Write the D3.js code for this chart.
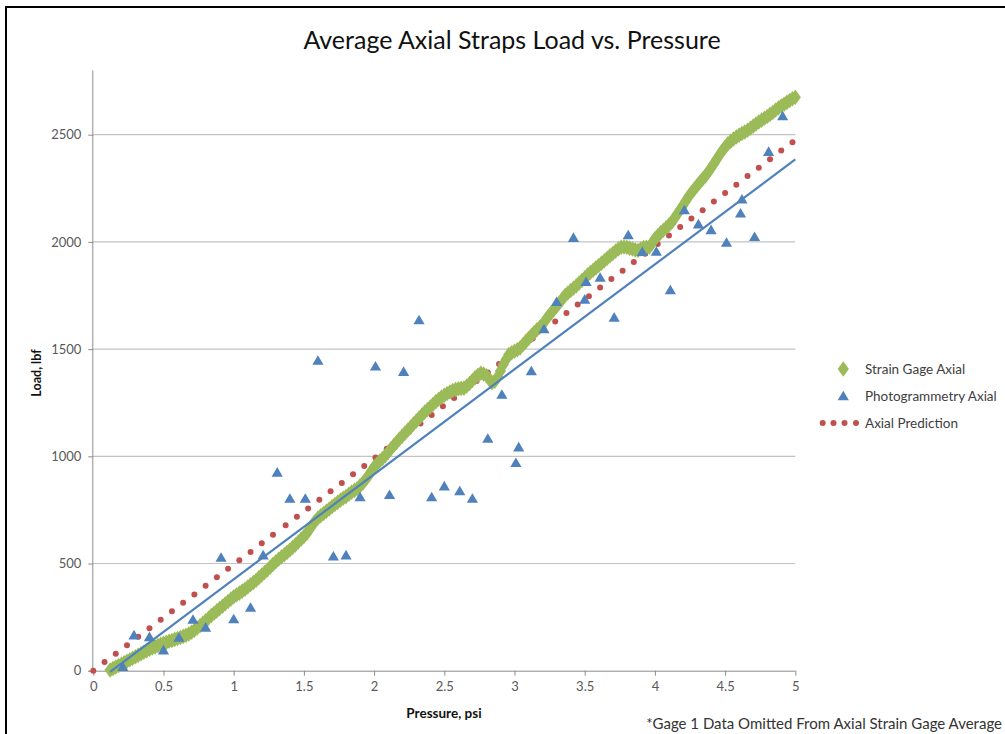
<!DOCTYPE html>
<html><head><meta charset="utf-8">
<script src="https://cdn.jsdelivr.net/npm/d3@7"></script>
<style>body{margin:0;background:#fff}svg{display:block}text{font-family:Lato,"Open Sans",sans-serif}</style>
</head><body>
<svg id="c" width="1005" height="734"></svg>
<script>
const xTicks = [0,0.5,1,1.5,2,2.5,3,3.5,4,4.5,5];
const xTickLabels = ["0","0.5","1","1.5","2","2.5","3","3.5","4","4.5","5"];
const yTicks = [0,500,1000,1500,2000,2500];

// Strain Gage Axial: [pressure psi, load lbf]
const gagePoints = [[0.12,3],[0.14,10],[0.16,17],[0.18,24],[0.20,30],[0.22,37],[0.24,44],[0.26,51],[0.28,58],[0.30,65],[0.32,72],[0.34,79],[0.36,86],[0.38,93],[0.40,100],[0.42,106],[0.44,111],[0.46,117],[0.48,123],[0.50,128],[0.52,132],[0.54,137],[0.56,141],[0.58,146],[0.60,150],[0.62,155],[0.64,160],[0.66,165],[0.68,171],[0.70,179],[0.72,189],[0.74,199],[0.76,210],[0.78,221],[0.80,233],[0.82,245],[0.84,257],[0.86,268],[0.88,279],[0.90,290],[0.92,301],[0.94,312],[0.96,323],[0.98,334],[1.00,345],[1.02,353],[1.04,362],[1.06,371],[1.08,380],[1.10,390],[1.12,401],[1.14,411],[1.16,422],[1.18,434],[1.20,446],[1.22,458],[1.24,470],[1.26,483],[1.28,496],[1.30,508],[1.32,520],[1.34,530],[1.36,541],[1.38,552],[1.40,563],[1.42,575],[1.44,587],[1.46,600],[1.48,613],[1.50,626],[1.52,640],[1.54,660],[1.56,680],[1.58,697],[1.60,712],[1.62,723],[1.64,733],[1.66,744],[1.68,754],[1.70,765],[1.72,775],[1.74,785],[1.76,795],[1.78,804],[1.80,812],[1.82,823],[1.84,833],[1.86,841],[1.88,850],[1.90,862],[1.92,875],[1.94,892],[1.96,910],[1.98,930],[2.00,950],[2.02,964],[2.04,978],[2.06,990],[2.08,1003],[2.10,1019],[2.12,1035],[2.14,1050],[2.16,1065],[2.18,1080],[2.20,1094],[2.22,1108],[2.24,1122],[2.26,1136],[2.28,1150],[2.30,1164],[2.32,1178],[2.34,1192],[2.36,1206],[2.38,1218],[2.40,1230],[2.42,1243],[2.44,1255],[2.46,1266],[2.48,1276],[2.50,1285],[2.52,1293],[2.54,1300],[2.56,1307],[2.58,1311],[2.60,1315],[2.62,1317],[2.64,1318],[2.66,1328],[2.68,1340],[2.70,1354],[2.72,1367],[2.74,1378],[2.76,1387],[2.78,1384],[2.80,1376],[2.82,1360],[2.84,1343],[2.86,1350],[2.88,1370],[2.90,1398],[2.92,1428],[2.94,1452],[2.96,1475],[2.98,1483],[3.00,1490],[3.02,1497],[3.04,1505],[3.06,1520],[3.08,1535],[3.10,1549],[3.12,1563],[3.14,1577],[3.16,1590],[3.18,1602],[3.20,1615],[3.22,1634],[3.24,1652],[3.26,1668],[3.28,1684],[3.30,1700],[3.32,1716],[3.34,1733],[3.36,1750],[3.38,1762],[3.40,1773],[3.42,1784],[3.44,1795],[3.46,1808],[3.48,1820],[3.50,1833],[3.52,1845],[3.54,1857],[3.56,1868],[3.58,1879],[3.60,1890],[3.62,1901],[3.64,1912],[3.66,1924],[3.68,1935],[3.70,1946],[3.72,1957],[3.74,1967],[3.76,1975],[3.78,1976],[3.80,1975],[3.82,1971],[3.84,1967],[3.86,1963],[3.88,1960],[3.90,1967],[3.92,1974],[3.94,1975],[3.96,1975],[3.98,1995],[4.00,2015],[4.02,2029],[4.04,2042],[4.06,2054],[4.08,2066],[4.10,2079],[4.12,2092],[4.14,2111],[4.16,2130],[4.18,2150],[4.20,2170],[4.22,2191],[4.24,2212],[4.26,2229],[4.28,2246],[4.30,2262],[4.32,2278],[4.34,2293],[4.36,2308],[4.38,2326],[4.40,2345],[4.42,2365],[4.44,2385],[4.46,2405],[4.48,2425],[4.50,2442],[4.52,2458],[4.54,2469],[4.56,2480],[4.58,2489],[4.60,2498],[4.62,2506],[4.64,2513],[4.66,2521],[4.68,2530],[4.70,2540],[4.72,2550],[4.74,2559],[4.76,2568],[4.78,2577],[4.80,2585],[4.82,2595],[4.84,2604],[4.86,2615],[4.88,2625],[4.90,2634],[4.92,2642],[4.94,2651],[4.96,2660],[4.98,2668],[5.00,2675]];

const photoX = [0.21,0.29,0.40,0.50,0.61,0.71,0.80,0.91,1.00,1.12,1.21,1.31,1.40,1.51,1.60,1.71,1.80,1.90,2.01,2.11,2.21,2.32,2.41,2.50,2.61,2.70,2.81,2.91,3.01,3.03,3.12,3.21,3.30,3.42,3.50,3.51,3.61,3.71,3.81,3.91,4.01,4.11,4.21,4.31,4.40,4.51,4.61,4.62,4.71,4.81,4.91];
const photoY = [19,166,158,96,155,239,202,528,241,295,539,925,803,803,1447,534,539,810,1420,821,1395,1636,810,861,838,803,1083,1288,970,1043,1398,1594,1721,2020,1732,1814,1834,1648,2032,1954,1955,1776,2149,2083,2056,1997,2134,2199,2024,2421,2587];

const predX = [0,0.08,0.16,0.24,0.32,0.40,0.48,0.56,0.64,0.72,0.80,0.88,0.96,1.04,1.12,1.20,1.28,1.37,1.45,1.53,1.61,1.69,1.77,1.85,1.93,2.01,2.09,2.17,2.25,2.33,2.41,2.49,2.57,2.65,2.73,2.81,2.89,2.97,3.05,3.13,3.21,3.29,3.37,3.45,3.53,3.61,3.69,3.77,3.85,3.93,4.02,4.10,4.18,4.26,4.34,4.42,4.50,4.58,4.66,4.74,4.82,4.90,4.98];
const predY = [0,40,79,119,158,198,238,277,317,356,396,436,475,515,554,594,634,678,718,757,797,837,876,916,955,995,1035,1074,1114,1153,1193,1233,1272,1312,1351,1391,1431,1470,1510,1549,1589,1629,1668,1708,1747,1787,1827,1866,1906,1945,1990,2030,2069,2109,2148,2188,2228,2267,2307,2346,2386,2426,2465];

const trendX = [0.12, 5];
const trendY = [-5, 2385];

const legendLabels = ["Strain Gage Axial","Photogrammetry Axial","Axial Prediction"];

const GREEN="#9BBB59", BLUE="#4F81BD", RED="#C0504D";
const svg = d3.select("#c");
const L=93.3, R=795.3, T=70.4, B=670.7;
const x = d3.scaleLinear().domain([0,5]).range([L,R]);
const y = d3.scaleLinear().domain([0,2800]).range([B,T]);

// border
svg.append("path").attr("d","M6,734 L6,7 L1005,7").attr("fill","none").attr("stroke","#000").attr("stroke-width",2);

// gridlines
svg.append("g").selectAll("line").data(yTicks.filter(d=>d>0)).join("line")
  .attr("x1",L).attr("x2",R).attr("y1",d=>y(d)).attr("y2",d=>y(d))
  .attr("stroke","#c3c3c3").attr("stroke-width",1.2);

// axes
const yAxis = d3.axisLeft(y).tickValues(yTicks).tickSize(5).tickPadding(4).tickFormat(d3.format("d"));
const gy = svg.append("g").attr("transform",`translate(${L},0)`).call(yAxis);
gy.select(".domain").attr("d",`M-0.5,${T}V${B}`).attr("stroke","#8c8c8c");
const xAxis = d3.axisBottom(x).tickValues(xTicks).tickSize(5).tickPadding(6).tickFormat((d,i)=>xTickLabels[i]);
const gx = svg.append("g").attr("transform",`translate(0,${B})`).call(xAxis);
gx.select(".domain").attr("d",`M${L-5},0.5H${R}`).attr("stroke","#8c8c8c");
svg.selectAll(".tick line").attr("stroke","#8c8c8c");
svg.selectAll(".tick text").attr("fill","#595959").style("font-size","13px");
gy.selectAll(".tick text").attr("dx","-3");

// prediction dots
svg.append("g").selectAll("circle").data(predX.map((d,i)=>[d,predY[i]])).join("circle")
  .attr("cx",d=>x(d[0])).attr("cy",d=>y(d[1])).attr("r",3).attr("fill",RED);

// gage diamonds
const dia = d3.symbol().type(d3.symbolDiamond).size(70);
svg.append("g").selectAll("path").data(gagePoints).join("path")
  .attr("d",dia).attr("transform",d=>`translate(${x(d[0])},${y(d[1])}) scale(1.25,1)`).attr("fill",GREEN);

// photogrammetry triangles
const tri = "M0,-5.3L5.6,4.3L-5.6,4.3Z";
svg.append("g").selectAll("path").data(photoX.map((d,i)=>[d,photoY[i]])).join("path")
  .attr("d",tri).attr("transform",d=>`translate(${x(d[0])},${y(d[1])})`).attr("fill",BLUE);

// trendline
svg.append("line").attr("x1",x(trendX[0])).attr("y1",y(trendY[0])).attr("x2",x(trendX[1])).attr("y2",y(trendY[1]))
  .attr("stroke",BLUE).attr("stroke-width",2.2);

// titles
svg.append("text").attr("x",512).attr("y",49).attr("text-anchor","middle").attr("fill","#111")
  .style("font-size","25px").text("Average Axial Straps Load vs. Pressure");
svg.append("text").attr("x",444).attr("y",718).attr("text-anchor","middle").attr("fill","#111")
  .style("font-size","13.5px").style("font-weight","bold").text("Pressure, psi");
svg.append("text").attr("transform","translate(41,373) rotate(-90)").attr("text-anchor","middle").attr("fill","#111")
  .style("font-size","12.5px").style("font-weight","bold").text("Load, lbf");
svg.append("text").attr("x",1002).attr("y",729).attr("text-anchor","end").attr("fill","#333")
  .style("font-size","15px").text("*Gage 1 Data Omitted From Axial Strain Gage Average");

// legend
const lg = svg.append("g");
const ly = [369,396,423];
lg.append("path").attr("d",dia).attr("transform",`translate(843.3,${ly[0]}) scale(1.25,1)`).attr("fill",GREEN);
lg.append("path").attr("d",tri).attr("transform",`translate(843.3,${ly[1]})`).attr("fill",BLUE);
lg.selectAll("circle").data([822.7,833.5,844.5,856]).join("circle").attr("cx",d=>d).attr("cy",ly[2]).attr("r",3).attr("fill",RED);
lg.selectAll("text").data(legendLabels).join("text").attr("x",865).attr("y",(d,i)=>ly[i]+4.5)
  .attr("fill","#404040").style("font-size","13.5px").text(d=>d);
</script>
</body></html>
